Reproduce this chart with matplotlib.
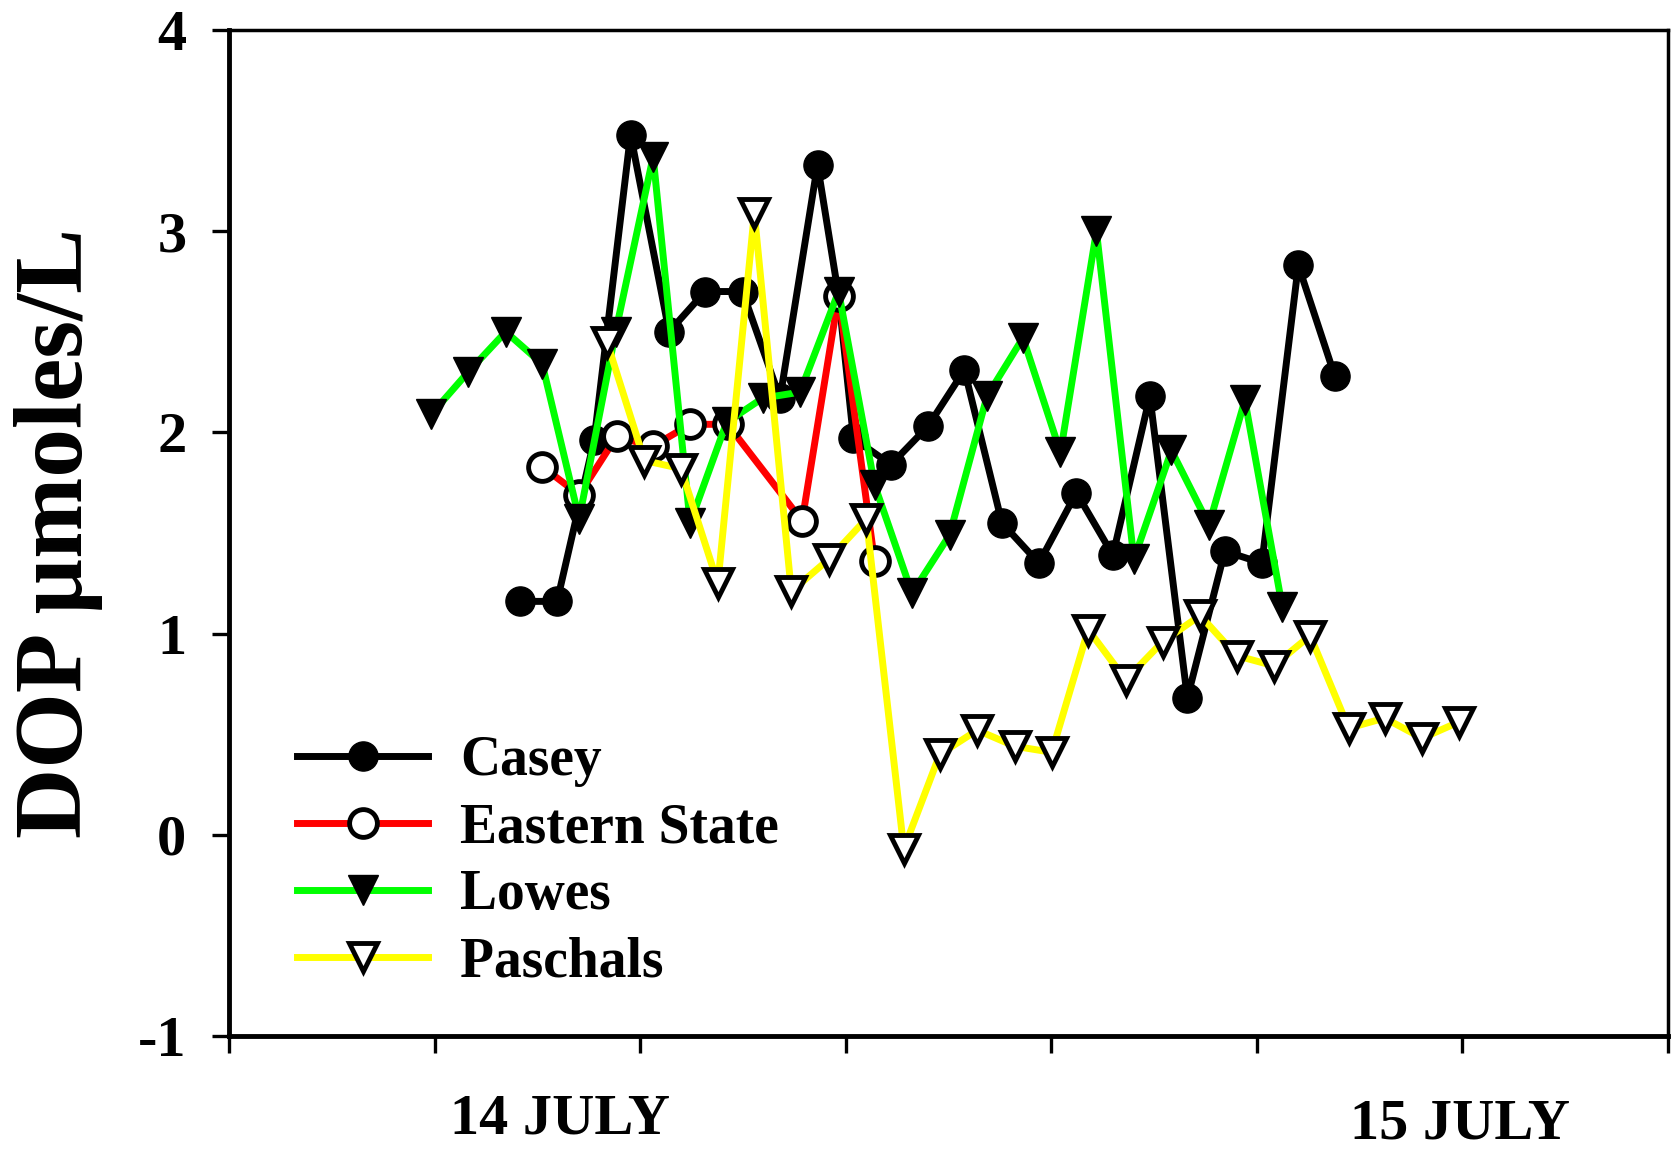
import numpy as np
import matplotlib
matplotlib.use("Agg")
import matplotlib.pyplot as plt
import matplotlib.transforms as mtransforms

plt.rcParams['font.family'] = ['Liberation Serif', 'DejaVu Serif']
plt.rcParams['font.weight'] = 'bold'
plt.rcParams['axes.unicode_minus'] = False

# hours from start of sampling (x) and DOP (y)
casey_x = [5.65, 6.38, 7.10, 7.81, 8.56, 9.26, 9.99, 10.72, 11.45, 11.86, 12.15, 12.88,
           13.60, 14.31, 15.04, 15.76, 16.49, 17.20, 17.92, 18.65, 19.38, 20.10, 20.81, 21.52]
casey_y = [1.16, 1.16, 1.96, 3.48, 2.50, 2.70, 2.70, 2.17, 3.33, 2.68, 1.97, 1.84,
           2.03, 2.31, 1.55, 1.35, 1.70, 1.39, 2.18, 0.68, 1.41, 1.35, 2.83, 2.28]

eastern_x = [6.09, 6.81, 7.54, 8.24, 8.97, 9.70, 11.15, 11.86, 12.56]
eastern_y = [1.83, 1.69, 1.98, 1.93, 2.04, 2.04, 1.56, 2.68, 1.36]

lowes_x = [3.93, 4.65, 5.38, 6.09, 6.81, 7.52, 8.25, 8.97, 9.68, 10.38, 11.11, 11.86,
           12.56, 13.29, 14.02, 14.75, 15.45, 16.18, 16.88, 17.61, 18.34, 19.07, 19.77, 20.50]
lowes_y = [2.09, 2.30, 2.50, 2.34, 1.57, 2.50, 3.37, 1.55, 2.05, 2.17, 2.20, 2.70,
           1.74, 1.20, 1.49, 2.18, 2.47, 1.90, 3.00, 1.37, 1.91, 1.54, 2.16, 1.13]

paschals_x = [7.35, 8.08, 8.79, 9.51, 10.22, 10.94, 11.67, 12.40, 13.13, 13.83, 14.56, 15.29,
              16.01, 16.72, 17.45, 18.17, 18.90, 19.61, 20.33, 21.04, 21.79, 22.49, 23.22, 23.93]
paschals_y = [2.45, 1.86, 1.82, 1.25, 3.09, 1.21, 1.37, 1.57, -0.07, 0.40, 0.52, 0.44,
              0.41, 1.02, 0.77, 0.96, 1.09, 0.89, 0.84, 0.99, 0.53, 0.58, 0.48, 0.56]

day_labels = ["14 JULY", "15 JULY"]
day_label_x = [6.44, 23.95]

fig = plt.figure(figsize=(16.73, 11.52), dpi=100)
ax = fig.add_axes([0.1371, 0.1007, 0.8597, 0.8733])

lw = 5
ms = 21
mew = 3.5
ax.plot(casey_x, casey_y, '-o', color='black', lw=lw, ms=ms, mfc='black', mec='black',
        label='Casey')
ax.plot(eastern_x, eastern_y, '-o', color='#ff0000', lw=lw, ms=ms - 1, mfc='white',
        mec='black', mew=mew, label='Eastern State')
ax.plot(lowes_x, lowes_y, '-v', color='#00ff00', lw=lw, ms=ms, mfc='black', mec='black',
        label='Lowes')
ax.plot(paschals_x, paschals_y, '-v', color='#ffff00', lw=lw, ms=ms - 1, mfc='white',
        mec='black', mew=mew, label='Paschals')

ax.set_xlim(0, 28)
ax.set_ylim(-1, 4)
ax.set_xticks(np.arange(0, 29, 4))
ax.set_xticklabels([])
ax.set_yticks(np.arange(-1, 5, 1))
ax.tick_params(axis='y', direction='out', length=12, width=2.4, pad=19, labelsize=42)
ax.tick_params(axis='x', direction='out', length=12, width=2.4)
for lab in ax.get_yticklabels():
    lab.set_fontweight('bold')

for side in ['left', 'bottom']:
    ax.spines[side].set_linewidth(3.5)
for side in ['top', 'right']:
    ax.spines[side].set_linewidth(2.5)

ax.set_ylabel('DOP µmoles/L', fontsize=70, fontweight='bold')
ax.yaxis.set_label_coords(-0.088, 0.5)

trans = mtransforms.blended_transform_factory(ax.transData, ax.transAxes)
ax.text(day_label_x[0], -0.083, day_labels[0], transform=trans, ha='center', va='center',
        fontsize=42, fontweight='bold')
ax.text(day_label_x[1], -0.088, day_labels[1], transform=trans, ha='center', va='center',
        fontsize=42, fontweight='bold')

ax.legend(loc='upper left', bbox_to_anchor=(0.047, 0.299), frameon=False,
          prop={'size': 40, 'weight': 'bold'}, handlelength=2.36, handletextpad=0.58,
          labelspacing=0.27, borderpad=0, borderaxespad=0)

fig.savefig('out.png', dpi=100)
